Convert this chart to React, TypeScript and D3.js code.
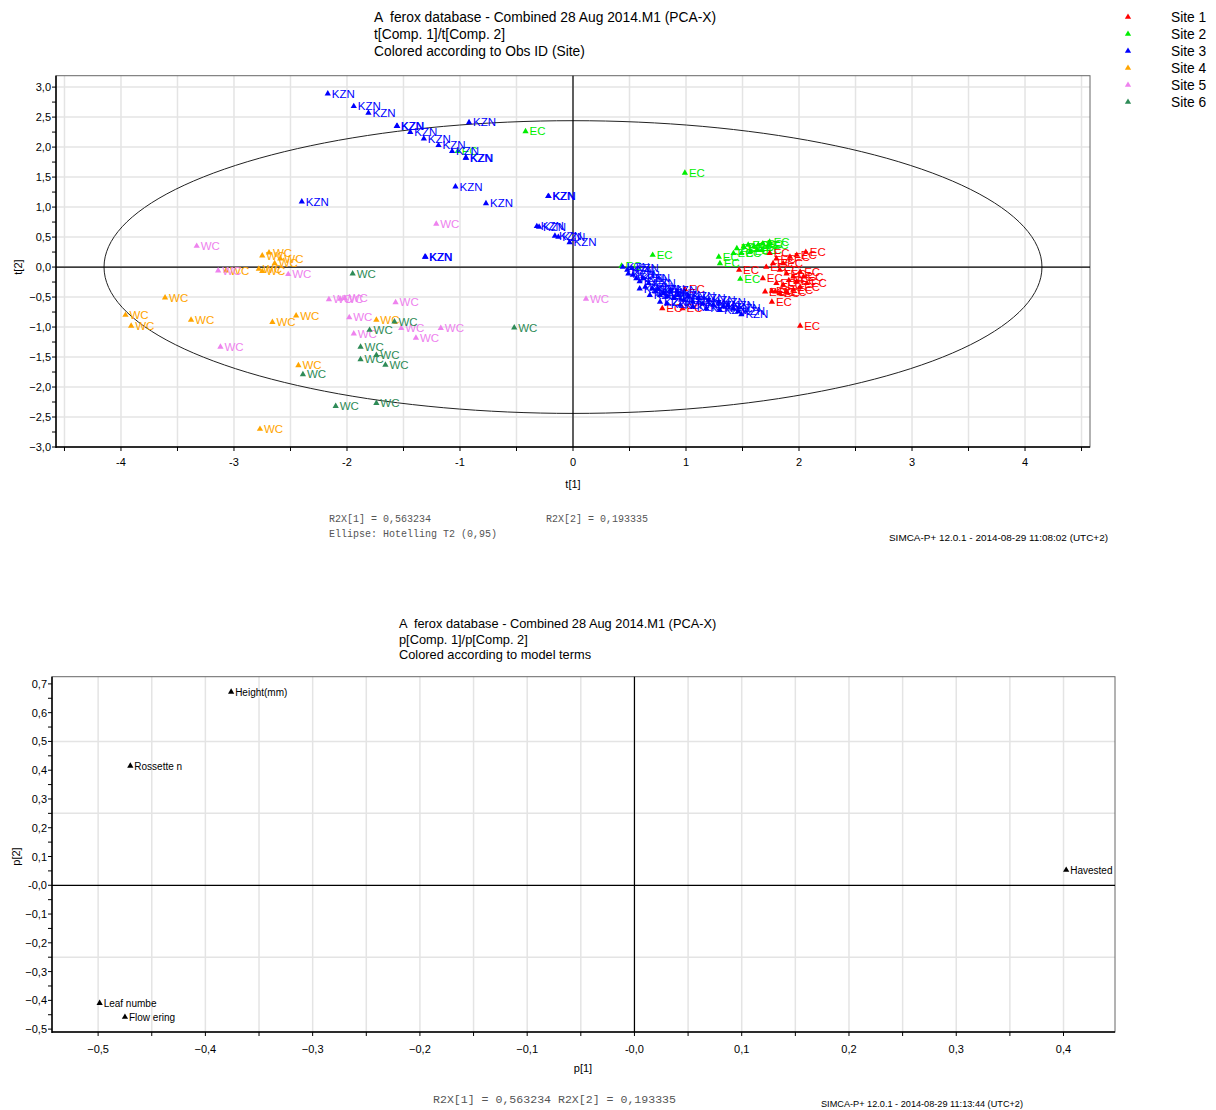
import React from 'react';
import * as d3 from 'd3';

const FONT = '"Liberation Sans", Arial, Helvetica, sans-serif';
const MONO = '"Liberation Mono", "Courier New", monospace';

// score plot, t[1] / t[2] per site
const site1: [number, number][] = [
  [2.06, 0.25], [1.47, -0.05], [1.68, -0.19], [1.70, -0.41], [1.76, -0.58], [1.80, 0.14],
  [1.86, 0.06], [1.92, 0.17], [1.98, 0.20], [1.83, -0.05], [1.89, -0.11], [1.95, -0.16],
  [2.01, -0.08], [1.91, -0.22], [1.98, -0.24], [2.01, -0.33], [1.95, -0.38], [1.89, -0.41],
  [1.83, -0.44], [1.79, -0.41], [1.74, 0.23], [1.77, 0.06], [1.71, 0.0], [2.04, -0.16],
  [1.80, -0.27], [1.86, -0.30], [2.07, -0.27], [1.76, -0.40], [2.01, -0.98], [0.79, -0.69],
  [0.97, -0.69], [0.99, -0.37],
];
const site2: [number, number][] = [
  [-0.42, 2.26], [-1.02, 1.93], [0.99, 1.57], [0.705, 0.20], [0.43, 0.02], [1.29, 0.17],
  [1.30, 0.06], [1.48, -0.20], [1.45, 0.31], [1.51, 0.34], [1.55, 0.37], [1.60, 0.34],
  [1.64, 0.37], [1.68, 0.39], [1.73, 0.37], [1.63, 0.28], [1.67, 0.28], [1.74, 0.42],
  [1.42, 0.23], [1.49, 0.23], [1.57, 0.26],
];
const site3: [number, number][] = [
  [-2.17, 2.89], [-1.94, 2.68], [-1.81, 2.57], [-1.56, 2.35], [-1.555, 2.35], [-1.44, 2.25],
  [-1.32, 2.14], [-1.19, 2.03], [-1.07, 1.93], [-0.95, 1.82], [-0.945, 1.82], [-0.92, 2.41],
  [-1.04, 1.34], [-0.77, 1.06], [-0.22, 1.18], [-0.215, 1.18], [-0.32, 0.68], [-0.30, 0.67],
  [-0.16, 0.52], [-0.13, 0.50], [-0.03, 0.41], [-1.31, 0.17], [-1.305, 0.17], [-2.40, 1.09],
  [0.44, 0.0], [0.48, -0.05], [0.52, -0.02], [0.53, -0.13], [0.56, -0.19], [0.59, -0.24],
  [0.62, -0.19], [0.64, -0.33], [0.67, -0.27], [0.70, -0.36], [0.73, -0.41], [0.75, -0.36],
  [0.77, -0.47], [0.80, -0.44], [0.83, -0.49], [0.86, -0.38], [0.89, -0.52], [0.93, -0.47],
  [0.98, -0.55], [1.02, -0.49], [1.06, -0.58], [1.11, -0.52], [1.15, -0.61], [1.20, -0.55],
  [1.24, -0.63], [1.29, -0.58], [1.33, -0.66], [1.37, -0.63], [1.42, -0.69], [1.46, -0.74],
  [1.49, -0.79], [0.77, -0.58], [0.83, -0.61], [0.95, -0.63], [1.06, -0.66], [1.18, -0.69],
  [1.30, -0.72], [0.68, -0.47], [0.59, -0.36], [0.49, -0.11],
];
const site4: [number, number][] = [
  [-2.75, 0.19], [-2.69, 0.24], [-2.59, 0.14], [-2.64, 0.06], [-2.78, -0.03], [-2.75, -0.07],
  [-3.07, -0.06], [-3.61, -0.51], [-3.96, -0.80], [-3.91, -0.98], [-3.38, -0.88], [-2.66, -0.92],
  [-2.45, -0.81], [-1.74, -0.88], [-2.43, -1.64], [-2.77, -2.70],
];
const site5: [number, number][] = [
  [-3.33, 0.35], [-3.14, -0.06], [-2.52, -0.12], [-2.16, -0.54], [-2.06, -0.53], [-2.02, -0.52],
  [-1.57, -0.59], [-1.98, -0.84], [-1.94, -1.11], [-1.52, -1.02], [-1.17, -1.02], [-1.39, -1.18],
  [-3.12, -1.33], [-1.21, 0.72], [0.115, -0.53],
];
const site6: [number, number][] = [
  [-1.95, -0.11], [-1.58, -0.91], [-1.80, -1.05], [-1.88, -1.33], [-1.88, -1.54], [-1.74, -1.47],
  [-1.66, -1.63], [-2.39, -1.79], [-2.10, -2.32], [-1.74, -2.27], [-0.52, -1.01],
];

const sites = [site1, site2, site3, site4, site5, site6];
const siteNames = ['Site 1', 'Site 2', 'Site 3', 'Site 4', 'Site 5', 'Site 6'];
const siteTags = ['EC', 'EC', 'KZN', 'WC', 'WC', 'WC'];
const siteColors = ['#ff0000', '#00ee00', '#0000ff', '#ffa500', '#ee82ee', '#2e8b57'];
const drawOrder = [1, 0, 3, 4, 5, 2];

const scoreTicksX = [-4, -3, -2, -1, 0, 1, 2, 3, 4];
const scoreTicksY = [-3, -2.5, -2, -1.5, -1, -0.5, 0, 0.5, 1, 1.5, 2, 2.5, 3];
const ellipseA = 4.15;
const ellipseB = 2.44;

// loading plot, p[1] / p[2]
const termNames = ['Height(mm)', 'Rossette n', 'Leaf numbe', 'Flow ering', 'Havested'];
const termP1 = [-0.376, -0.47, -0.4986, -0.475, 0.4025];
const termP2 = [0.672, 0.415, -0.41, -0.458, 0.053];

const loadTicksX = [-0.5, -0.4, -0.3, -0.2, -0.1, 0, 0.1, 0.2, 0.3, 0.4];
const loadTicksY = [-0.5, -0.4, -0.3, -0.2, -0.1, 0, 0.1, 0.2, 0.3, 0.4, 0.5, 0.6, 0.7];

const comma = (v: number) => d3.format('.1f')(v).replace('.', ',');
const tri = d3.symbol(d3.symbolTriangle, 17)() as string;
const GRID = '#e4e4e4';
const pre = { whiteSpace: 'pre' as const };

function ScorePlot() {
  const x = d3.scaleLinear().domain([-4.575, 4.575]).range([56, 1090]);
  const y = d3.scaleLinear().domain([-3.0, 3.19]).range([447, 75.7]);
  const [x0, x1] = x.range();
  const [y0, y1] = y.range();
  const gridX = d3.range(-4.5, 4.51, 0.5);
  const gridY = d3.range(-2.5, 3.01, 0.5);
  const minorY = d3.range(-3, 3.01, 0.25);
  const ell = d3.line()(d3.range(0, 361, 2).map(a => {
    const r = (a * Math.PI) / 180;
    return [x(ellipseA * Math.cos(r)), y(ellipseB * Math.sin(r))] as [number, number];
  }));

  return (
    <g fontFamily={FONT}>
      <text x={374} y={22} fontSize={13.8} style={pre}>A  ferox database - Combined 28 Aug 2014.M1 (PCA-X)</text>
      <text x={374} y={39} fontSize={13.8}>t[Comp. 1]/t[Comp. 2]</text>
      <text x={374} y={56} fontSize={13.8}>Colored according to Obs ID (Site)</text>

      {siteNames.map((n, i) => (
        <g key={n}>
          <path d={tri} transform={`translate(1128,${17 + i * 17})`} fill={siteColors[i]} />
          <text x={1171} y={22 + i * 17} fontSize={13.8}>{n}</text>
        </g>
      ))}

      {gridX.map(v => <line key={'gx' + v} x1={x(v)} x2={x(v)} y1={y1} y2={y0} stroke={GRID} strokeWidth={1.5} />)}
      {gridY.map(v => <line key={'gy' + v} x1={x0} x2={x1} y1={y(v)} y2={y(v)} stroke={GRID} strokeWidth={1.5} />)}
      <rect x={x0} y={y1} width={x1 - x0} height={y0 - y1} fill="none" stroke="#666" strokeWidth={1} />

      <path d={ell as string} fill="none" stroke="#222" strokeWidth={1} />
      <line x1={x0} x2={x1} y1={y(0)} y2={y(0)} stroke="#000" strokeWidth={1.2} />
      <line x1={x(0)} x2={x(0)} y1={y1} y2={y0} stroke="#000" strokeWidth={1.2} />

      <line x1={x0} x2={x0} y1={y1} y2={y0 + 1} stroke="#000" strokeWidth={1.5} />
      <line x1={x0} x2={x1} y1={y0} y2={y0} stroke="#000" strokeWidth={1.5} />
      {minorY.map(v => <line key={'ty' + v} x1={x0 - 4} x2={x0} y1={y(v)} y2={y(v)} stroke="#000" />)}
      {gridX.map(v => <line key={'tx' + v} x1={x(v)} x2={x(v)} y1={y0} y2={y0 + 4} stroke="#000" />)}
      {scoreTicksY.map(v => (
        <text key={'ly' + v} x={x0 - 5} y={y(v) + 4} fontSize={11} textAnchor="end">{comma(v)}</text>
      ))}
      {scoreTicksX.map(v => (
        <text key={'lx' + v} x={x(v)} y={y0 + 19} fontSize={11} textAnchor="middle">{String(v)}</text>
      ))}
      <text transform={`translate(22,${y(0)}) rotate(-90)`} fontSize={11} textAnchor="middle">t[2]</text>
      <text x={x(0)} y={488} fontSize={11} textAnchor="middle">t[1]</text>

      {drawOrder.map(si => (
        <g key={'s' + si} fill={siteColors[si]}>
          {sites[si].map((d, j) => (
            <g key={j} transform={`translate(${x(d[0])},${y(d[1])})`}>
              <path d={tri} />
              <text x={4} y={4} fontSize={11.5}>{siteTags[si]}</text>
            </g>
          ))}
        </g>
      ))}

      <g fontFamily={MONO} fontSize={10} fill="#555">
        <text x={329} y={522}>R2X[1] = 0,563234</text>
        <text x={546} y={522}>R2X[2] = 0,193335</text>
        <text x={329} y={537}>Ellipse: Hotelling T2 (0,95)</text>
      </g>
      <text x={889} y={541} fontSize={9} textLength={219} lengthAdjust="spacingAndGlyphs">
        SIMCA-P+ 12.0.1 - 2014-08-29 11:08:02 (UTC+2)
      </text>
    </g>
  );
}

function LoadingPlot() {
  const x = d3.scaleLinear().domain([-0.543, 0.448]).range([52, 1115]);
  const y = d3.scaleLinear().domain([-0.51, 0.725]).range([1032, 676.7]);
  const [x0, x1] = x.range();
  const [y0, y1] = y.range();
  const gridX = d3.range(-0.5, 0.449, 0.05);
  const gridY = [-0.25, 0.25, 0.5];
  const minorY = d3.range(-0.5, 0.71, 0.05);
  const fmt = (v: number) => (Math.abs(v) < 1e-9 ? '-0,0' : comma(v));

  return (
    <g fontFamily={FONT}>
      <text x={399} y={628} fontSize={12.8} style={pre}>A  ferox database - Combined 28 Aug 2014.M1 (PCA-X)</text>
      <text x={399} y={644} fontSize={12.8}>p[Comp. 1]/p[Comp. 2]</text>
      <text x={399} y={659} fontSize={12.8}>Colored according to model terms</text>

      {gridX.map(v => <line key={'gx' + v} x1={x(v)} x2={x(v)} y1={y1} y2={y0} stroke={GRID} strokeWidth={1.5} />)}
      {gridY.map(v => <line key={'gy' + v} x1={x0} x2={x1} y1={y(v)} y2={y(v)} stroke={GRID} strokeWidth={1.5} />)}
      <rect x={x0} y={y1} width={x1 - x0} height={y0 - y1} fill="none" stroke="#666" strokeWidth={1} />

      <line x1={x0} x2={x1} y1={y(0)} y2={y(0)} stroke="#000" strokeWidth={1.2} />
      <line x1={x(0)} x2={x(0)} y1={y1} y2={y0} stroke="#000" strokeWidth={1.2} />

      <line x1={x0} x2={x0} y1={y1} y2={y0 + 1} stroke="#000" strokeWidth={1.5} />
      <line x1={x0} x2={x1} y1={y0} y2={y0} stroke="#000" strokeWidth={1.5} />
      {minorY.map(v => <line key={'ty' + v} x1={x0 - 4} x2={x0} y1={y(v)} y2={y(v)} stroke="#000" />)}
      {gridX.map(v => <line key={'tx' + v} x1={x(v)} x2={x(v)} y1={y0} y2={y0 + 4} stroke="#000" />)}
      {loadTicksY.map(v => (
        <text key={'ly' + v} x={x0 - 5} y={y(v) + 4} fontSize={11} textAnchor="end">{fmt(v)}</text>
      ))}
      {loadTicksX.map(v => (
        <text key={'lx' + v} x={x(v)} y={y0 + 21} fontSize={11} textAnchor="middle">{fmt(v)}</text>
      ))}
      <text transform={`translate(20,${y(0.1)}) rotate(-90)`} fontSize={11} textAnchor="middle">p[2]</text>
      <text x={583} y={1072} fontSize={11} textAnchor="middle">p[1]</text>

      {termNames.map((n, i) => (
        <g key={n} transform={`translate(${x(termP1[i])},${y(termP2[i])})`}>
          <path d={tri} fill="#000" />
          <text x={4} y={4} fontSize={10}>{n}</text>
        </g>
      ))}

      <text x={433} y={1103} fontFamily={MONO} fontSize={10} fill="#555" textLength={243} lengthAdjust="spacingAndGlyphs">
        R2X[1] = 0,563234 R2X[2] = 0,193335
      </text>
      <text x={821} y={1107} fontSize={9} textLength={202} lengthAdjust="spacingAndGlyphs">
        SIMCA-P+ 12.0.1 - 2014-08-29 11:13:44 (UTC+2)
      </text>
    </g>
  );
}

export default function App() {
  return (
    <svg width={1216} height={1110} style={{ display: 'block', position: 'absolute', left: 0, top: 0, background: '#fff' }}>
      <ScorePlot />
      <LoadingPlot />
    </svg>
  );
}
